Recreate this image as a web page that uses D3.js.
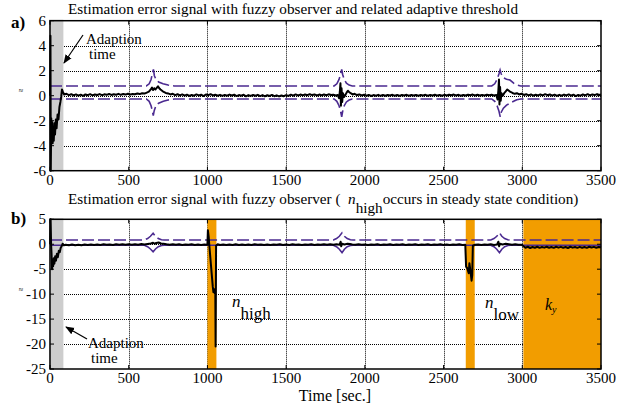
<!doctype html>
<html>
  <head>
    <meta charset="utf-8" />
    <title>Estimation error signal</title>
    <script type="text/javascript" src="https://cdnjs.cloudflare.com/ajax/libs/d3/7.8.5/d3.min.js"></script>
    <style>
      body { margin:0; background:#fff; }
      svg { display:block; }
      svg text { font-family:'Liberation Serif', 'DejaVu Serif', serif; }
    </style>
  </head>
  <body>
    <div id="chart"></div>
    <script type="text/javascript">

/* ---- data ---- */
var xTicks = [0, 500, 1000, 1500, 2000, 2500, 3000, 3500];
var yTicksA = [-6, -4, -2, 0, 2, 4, 6];
var yTicksB = [-25, -20, -15, -10, -5, 0, 5];

/* adaption time and fault windows [start, end] in sec */
var adaptionBand = [0, 85];
var faultBands = [[1000, 1057], [2641, 2698], [3007, 3500]];
var faultLabels = ["high", "low", "y"];

/* panel a) estimation error */
var sigA = [
[0,0],[3,4.8],[5,-6],[8,-1.8],[11,-3.4],[14,-2.1],[17,-3.8],[20,-2.5],[24,-3.6],[28,-2.2],[32,-3.1],[37,-1.9],[42,-2.6],[48,-1.5],[54,-1.9],[60,-0.9],[66,-0.5],[71,-0.1],[76,0.5],[82,0.3],[90,0.1],
[105,0.15],[120,0.05],[135,0.12],[150,0.02],[165,0.1],[180,0.0],[195,0.08],[210,-0.02],[225,0.1],[240,0.04],[255,0.12],[270,0.03],[285,0.1],[300,0.06],[315,0.13],[330,0.04],[345,0.11],[360,0.07],[375,0.14],[390,0.06],[405,0.12],[420,0.08],[435,0.15],[450,0.07],[465,0.13],[480,0.09],[495,0.16],[510,0.1],[525,0.14],[540,0.12],[555,0.18],[570,0.13],[585,0.2],[600,0.17],[615,0.25],[628,0.32],[640,0.5],[648,0.65],[655,0.45],[662,0.6],[670,0.5],[678,0.62],[686,0.75],[694,0.6],[702,0.5],[712,0.4],[722,0.3],[735,0.22],[750,0.18],[765,0.1],[780,0.15],[795,0.05],[810,0.12],[825,0.02],[840,0.1],[855,0.0],[870,0.08],[885,-0.02],[900,0.06],[915,0.0],[930,0.1],[945,0.02],[960,0.08],[975,-0.03],[990,0.1],
[1005,0.05],[1020,0.12],[1035,0.02],[1050,0.08],[1065,0.0],[1080,0.07],[1095,-0.02],[1110,0.06],[1125,0.0],[1140,0.09],[1155,0.02],[1170,0.08],[1185,-0.03],[1200,0.05],[1215,0.0],[1230,0.08],[1245,-0.05],[1260,0.05],[1275,-0.02],[1290,0.06],[1305,0.0],[1320,0.07],[1335,-0.03],[1350,0.05],[1365,-0.05],[1380,0.04],[1395,-0.02],[1410,0.06],[1425,-0.04],[1440,0.03],[1455,-0.06],[1470,0.02],[1485,-0.04],[1500,0.05],[1515,-0.02],[1530,0.08],[1545,0.0],[1560,0.1],[1575,0.02],[1590,0.09],[1605,0.03],[1620,0.1],[1635,0.04],[1650,0.12],[1665,0.05],[1680,0.1],[1695,0.02],[1710,0.09],[1725,0.03],[1740,0.1],[1755,0.04],[1770,0.11],[1785,0.05],[1800,0.08],[1815,0.02],[1828,0.05],[1836,-0.2],[1841,0.3],[1845,1.0],[1848,-0.8],[1852,0.6],[1856,-0.5],[1861,0.2],[1868,-0.1],[1876,0.05],[1884,0.25],[1892,0.4],[1900,0.3],[1910,0.2],[1922,0.1],[1935,0.15],[1950,0.05],[1965,0.1],
[1980,0.02],[1995,0.08],[2010,0.0],[2025,0.06],[2040,-0.02],[2055,0.05],[2070,0.0],[2085,0.07],[2100,-0.01],[2115,0.05],[2130,0.0],[2145,0.06],[2160,0.01],[2175,0.07],[2190,0.0],[2205,0.05],[2220,-0.01],[2235,0.06],[2250,0.02],[2265,0.07],[2280,0.0],[2295,0.05],[2310,0.01],[2325,0.06],[2340,0.0],[2355,0.05],[2370,0.02],[2385,0.07],[2400,0.0],[2415,0.06],[2430,0.02],[2445,0.08],[2460,0.01],[2475,0.06],[2490,0.0],[2505,0.07],[2520,0.02],[2535,0.08],[2550,0.03],[2565,0.09],[2580,0.02],[2595,0.07],[2610,0.0],[2625,0.06],[2640,0.02],[2655,0.08],[2670,0.03],[2685,0.09],[2700,0.02],[2715,0.07],[2730,0.01],[2745,0.06],[2760,0.02],[2775,0.08],[2790,0.03],[2805,0.07],[2820,0.02],[2835,0.05],[2843,-0.3],[2848,0.4],[2852,1.3],[2855,-0.7],[2859,0.7],[2863,-0.4],[2868,0.2],[2876,0.0],[2885,0.2],[2895,0.35],[2905,0.5],[2915,0.4],[2925,0.3],[2938,0.22],[2952,0.15],[2966,0.2],[2980,0.1],[2995,0.16],
[3010,0.06],[3025,0.12],[3040,0.03],[3055,0.1],[3070,0.0],[3085,0.08],[3100,0.02],[3115,0.1],[3130,0.03],[3145,0.12],[3160,0.04],[3175,0.1],[3190,0.0],[3205,0.08],[3220,-0.02],[3235,0.07],[3250,0.0],[3265,0.09],[3280,0.02],[3295,0.1],[3310,0.0],[3325,0.08],[3340,-0.03],[3355,0.06],[3370,0.0],[3385,0.1],[3400,0.03],[3415,0.12],[3430,0.02],[3445,0.1],[3460,0.05],[3475,0.13],[3490,0.06],[3500,0.1]
];

/* panel a) adaptive threshold, upper and lower */
var thrUpA = [
[0,0.78],[612,0.78],[630,0.95],[642,1.3],[650,1.75],[657,2.1],[663,1.6],[673,1.3],[690,1.1],[718,0.95],[750,0.85],[790,0.78],
[1805,0.78],[1822,0.95],[1836,1.3],[1846,1.75],[1853,2.1],[1859,1.7],[1869,1.3],[1883,1.0],[1900,0.85],[1920,0.78],
[2806,0.78],[2825,0.95],[2840,1.3],[2852,1.75],[2859,2.05],[2866,1.75],[2878,1.45],[2900,1.32],[2922,1.25],[2945,1.0],[2965,0.86],[2990,0.78],[3500,0.78]
];
var thrLoA = [
[0,-0.26],[612,-0.26],[630,-0.45],[642,-0.8],[650,-1.2],[656,-1.6],[662,-1.2],[673,-0.8],[690,-0.6],[720,-0.45],[750,-0.35],[790,-0.26],
[1805,-0.26],[1822,-0.45],[1836,-0.8],[1846,-1.25],[1853,-1.7],[1859,-1.25],[1869,-0.8],[1883,-0.5],[1900,-0.35],[1920,-0.26],
[2806,-0.26],[2825,-0.45],[2840,-0.8],[2852,-1.25],[2860,-1.7],[2867,-1.3],[2880,-1.0],[2900,-0.75],[2922,-0.6],[2945,-0.45],[2965,-0.33],[2990,-0.26],[3500,-0.26]
];

/* panel b) estimation error with faults */
var sigB = [
[0,0],[4,5],[7,0],[10,-2],[13,-5],[16,-3.2],[20,-4.4],[24,-2.8],[28,-3.9],[33,-2.4],[38,-3.3],[44,-1.9],[50,-2.6],[56,-1.3],[62,-1.6],[68,-0.7],[74,-0.4],[80,0.1],[88,-0.2],
[100,-0.1],[120,-0.2],[140,-0.05],[160,-0.18],[180,-0.08],[200,-0.2],[220,-0.06],[240,-0.16],[260,-0.04],[280,-0.15],[300,-0.05],[320,-0.14],[340,-0.02],[360,-0.12],[380,-0.03],[400,-0.13],[420,0.0],[440,-0.1],[460,-0.02],[480,-0.12],[500,0.0],[520,-0.1],[540,0.02],[560,-0.08],[580,0.03],[600,-0.05],[620,0.05],[640,0.15],[655,0.3],[665,0.1],[675,0.25],[690,0.35],[705,0.15],[720,0.1],[740,-0.02],[760,-0.1],[780,0.0],[800,-0.12],[820,-0.02],[840,-0.14],[860,-0.04],[880,-0.12],[900,-0.02],[920,-0.15],[940,-0.05],[960,-0.13],[980,-0.03],[995,-0.1],
[1000,-0.1],[1003,2.8],[1008,1.5],[1012,-0.2],[1022,-4],[1034,-8.5],[1038,-9.6],[1043,-9.0],[1047,-9.8],[1050,-9.2],[1052,-20.5],[1055,-0.3],[1065,0.0],[1080,-0.15],
[1100,-0.05],[1120,-0.16],[1140,-0.04],[1160,-0.14],[1180,-0.02],[1200,-0.13],[1220,-0.03],[1240,-0.15],[1260,-0.05],[1280,-0.14],[1300,-0.02],[1320,-0.12],[1340,-0.04],[1360,-0.15],[1380,-0.05],[1400,-0.13],[1420,-0.03],[1440,-0.12],[1460,-0.02],[1480,-0.14],[1500,-0.04],[1520,-0.13],[1540,-0.02],[1560,-0.12],[1580,-0.03],[1600,-0.14],[1620,-0.04],[1640,-0.12],[1660,-0.02],[1680,-0.13],[1700,-0.03],[1720,-0.12],[1740,-0.02],[1760,-0.1],[1780,0.0],[1800,-0.1],[1820,-0.02],[1840,-0.08],[1846,0.5],[1850,-0.4],[1855,0.1],[1870,-0.05],[1890,0.1],[1905,0.05],[1920,-0.06],[1940,-0.12],
[1960,-0.02],[1980,-0.12],[2000,-0.03],[2020,-0.14],[2040,-0.04],[2060,-0.12],[2080,-0.02],[2100,-0.13],[2120,-0.03],[2140,-0.12],[2160,-0.02],[2180,-0.14],[2200,-0.04],[2220,-0.12],[2240,-0.02],[2260,-0.13],[2280,-0.03],[2300,-0.12],[2320,-0.02],[2340,-0.14],[2360,-0.04],[2380,-0.12],[2400,-0.02],[2420,-0.13],[2440,-0.03],[2460,-0.12],[2480,-0.02],[2500,-0.13],[2520,-0.04],[2540,-0.14],[2560,-0.03],[2580,-0.12],[2600,-0.02],[2620,-0.13],[2638,-0.1],
[2643,-4.5],[2650,-4.8],[2660,-5.8],[2664,-3.8],[2670,-5.2],[2678,-7.3],[2682,-6.2],[2686,-0.3],[2700,-0.1],
[2720,-0.04],[2740,-0.14],[2760,-0.03],[2780,-0.12],[2800,-0.02],[2820,-0.13],[2840,-0.05],[2848,0.5],[2853,-0.4],[2858,0.1],[2875,-0.05],[2895,0.08],[2915,0.0],[2935,-0.1],[2955,-0.02],[2975,-0.12],[2995,-0.08],
[3008,-0.4],[3020,-0.7],[3035,-0.5],[3050,-0.75],[3065,-0.55],[3080,-0.7],[3095,-0.5],[3110,-0.72],[3125,-0.55],[3140,-0.68],[3155,-0.5],[3170,-0.7],[3185,-0.55],[3200,-0.72],[3215,-0.5],[3230,-0.68],[3245,-0.52],[3260,-0.7],[3275,-0.55],[3290,-0.75],[3305,-0.5],[3320,-0.68],[3335,-0.55],[3350,-0.72],[3365,-0.52],[3380,-0.7],[3395,-0.55],[3410,-0.72],[3425,-0.5],[3440,-0.66],[3455,-0.52],[3470,-0.7],[3485,-0.55],[3500,-0.62]
];

/* panel b) adaptive threshold, upper and lower */
var thrUpB = [
[0,0.85],[600,0.85],[620,1.15],[638,1.6],[655,2.2],[670,1.6],[688,1.15],[708,0.9],[725,0.85],
[1800,0.85],[1820,1.15],[1838,1.6],[1855,2.3],[1870,1.6],[1888,1.15],[1908,0.9],[1925,0.85],
[2800,0.85],[2820,1.15],[2838,1.6],[2855,2.3],[2870,1.6],[2888,1.15],[2908,0.9],[2925,0.85],[3500,0.85]
];
var thrLoB = [
[0,-0.2],[600,-0.2],[620,-0.5],[638,-0.95],[655,-1.5],[670,-0.95],[688,-0.5],[708,-0.25],[725,-0.2],
[1800,-0.2],[1820,-0.5],[1838,-1.0],[1855,-1.7],[1870,-1.0],[1888,-0.5],[1908,-0.25],[1925,-0.2],
[2800,-0.2],[2820,-0.5],[2838,-1.0],[2855,-1.7],[2870,-1.0],[2888,-0.5],[2908,-0.25],[2925,-0.2],[3500,-0.2]
];

/* ---- drawing ---- */
var W = 626, H = 408;
var purple = "#4b2a90", orange = "#f29d00", grey = "#cdcdcd";
var serif = "'Liberation Serif', 'DejaVu Serif', serif";

var svg = d3.select("#chart").append("svg")
  .attr("width", W).attr("height", H)
  .attr("font-family", serif);

var x = d3.scaleLinear().domain([0, 3500]).range([50, 601]);

function panel(opts) {
  var y = d3.scaleLinear().domain(opts.domain).range(opts.range);
  var g = svg.append("g");
  var top = opts.range[1], bot = opts.range[0];

  /* dotted grid */
  g.selectAll("line.gx").data(xTicks.slice(1, -1)).enter().append("line")
    .attr("x1", function(d) { return Math.round(x(d)) + 0.5; })
    .attr("x2", function(d) { return Math.round(x(d)) + 0.5; })
    .attr("y1", top).attr("y2", bot)
    .attr("stroke", "#000").attr("stroke-width", 1).attr("stroke-dasharray", "1,1");
  g.selectAll("line.gy").data(opts.ticks.slice(1, -1)).enter().append("line")
    .attr("x1", x(0)).attr("x2", x(3500))
    .attr("y1", function(d) { return Math.round(y(d)) + 0.5; })
    .attr("y2", function(d) { return Math.round(y(d)) + 0.5; })
    .attr("stroke", "#000").attr("stroke-width", 1).attr("stroke-dasharray", "1,1");

  /* shaded bands */
  g.append("rect")
    .attr("x", x(adaptionBand[0]) - 1).attr("width", x(adaptionBand[1]) - x(adaptionBand[0]) + 1)
    .attr("y", top - 1).attr("height", bot - top + 1).attr("fill", grey);
  (opts.bands || []).forEach(function(b) {
    g.append("rect")
      .attr("x", x(b[0])).attr("width", x(b[1]) - x(b[0]))
      .attr("y", top).attr("height", bot - top).attr("fill", orange);
  });

  var line = d3.line().x(function(d) { return x(d[0]); }).y(function(d) { return y(d[1]); });

  g.append("path").attr("d", line(opts.up)).attr("fill", "none")
    .attr("stroke", purple).attr("stroke-width", 1.6).attr("stroke-dasharray", "12,4");
  g.append("path").attr("d", line(opts.lo)).attr("fill", "none")
    .attr("stroke", purple).attr("stroke-width", 1.6).attr("stroke-dasharray", opts.loDash);
  g.append("path").attr("d", line(opts.sig)).attr("fill", "none")
    .attr("stroke", "#000").attr("stroke-width", 2).attr("stroke-linejoin", "round");

  /* frame */
  g.append("rect").attr("x", x(0)).attr("y", top)
    .attr("width", x(3500) - x(0)).attr("height", bot - top)
    .attr("fill", "none").attr("stroke", "#000").attr("stroke-width", 1.5);

  /* inward ticks on all sides */
  var tl = 4;
  g.selectAll("line.tx").data(xTicks).enter().append("line")
    .attr("x1", x).attr("x2", x).attr("y1", bot).attr("y2", bot - tl).attr("stroke", "#000");
  g.selectAll("line.tx2").data(xTicks).enter().append("line")
    .attr("x1", x).attr("x2", x).attr("y1", top).attr("y2", top + tl).attr("stroke", "#000");
  g.selectAll("line.ty").data(opts.ticks).enter().append("line")
    .attr("x1", x(0)).attr("x2", x(0) + tl).attr("y1", y).attr("y2", y).attr("stroke", "#000");
  g.selectAll("line.ty2").data(opts.ticks).enter().append("line")
    .attr("x1", x(3500)).attr("x2", x(3500) - tl).attr("y1", y).attr("y2", y).attr("stroke", "#000");

  /* tick labels */
  g.selectAll("text.xl").data(xTicks).enter().append("text")
    .attr("x", x).attr("y", bot + 14).attr("text-anchor", "middle")
    .attr("font-size", 15).text(function(d) { return d; });
  g.selectAll("text.yl").data(opts.ticks).enter().append("text")
    .attr("x", 46).attr("y", function(d) { return y(d) + 5; }).attr("text-anchor", "end")
    .attr("font-size", 15).text(function(d) { return d; });

  /* panel letter and tiny axis symbol */
  g.append("text").attr("x", 11).attr("y", opts.letterY)
    .attr("font-size", 17).attr("font-weight", "bold").text(opts.letter);
  g.append("text").attr("x", 21).attr("y", opts.symY).attr("text-anchor", "middle")
    .attr("font-size", 8).text("\u2248");

  return y;
}

var yA = panel({
  domain: [-6, 6], range: [170.7, 20.7], ticks: yTicksA,
  sig: sigA, up: thrUpA, lo: thrLoA, loDash: "12,4",
  letter: "a)", letterY: 28, symY: 93
});

var yB = panel({
  domain: [-25, 5], range: [369, 219.3], ticks: yTicksB,
  sig: sigB, up: thrUpB, lo: thrLoB, loDash: null, bands: faultBands,
  letter: "b)", letterY: 224, symY: 292
});

/* titles */
svg.append("text").attr("x", 68).attr("y", 14).attr("font-size", 15.2)
  .text("Estimation error signal with fuzzy observer and related adaptive threshold");

var t2 = svg.append("text").attr("x", 68).attr("y", 204).attr("font-size", 15.2);
t2.append("tspan").text("Estimation error signal with fuzzy observer (\u00a0\u00a0");
t2.append("tspan").attr("font-style", "italic").text("n");
t2.append("tspan").attr("dy", 9).text("high");
t2.append("tspan").attr("dy", -9).text("occurs in steady state condition)");

/* x axis title */
svg.append("text").attr("x", 335).attr("y", 401).attr("text-anchor", "middle")
  .attr("font-size", 16).text("Time [sec.]");

/* annotations */
var defs = svg.append("defs");
defs.append("marker").attr("id", "ah").attr("viewBox", "0 0 10 10")
  .attr("refX", 9).attr("refY", 5).attr("markerWidth", 9).attr("markerHeight", 9)
  .attr("orient", "auto").attr("markerUnits", "userSpaceOnUse")
  .append("path").attr("d", "M0,1 L10,5 L0,9 Z").attr("fill", "#000");

function note(tx, ty, hx, hy, lx, ly) {
  svg.append("line").attr("x1", tx).attr("y1", ty).attr("x2", hx).attr("y2", hy)
    .attr("stroke", "#000").attr("stroke-width", 1.2).attr("marker-end", "url(#ah)");
  svg.append("text").attr("x", lx).attr("y", ly).attr("font-size", 15).text("Adaption");
  svg.append("text").attr("x", lx + 3).attr("y", ly + 15).attr("font-size", 15).text("time");
}
note(83, 35, 64, 63, 86, 44);
note(87, 339, 66, 327, 88, 348);

/* fault labels inside panel b */
function faultText(xp, yp, letter, sub, subSize) {
  var t = svg.append("text").attr("x", xp).attr("y", yp).attr("font-size", 17);
  t.append("tspan").attr("font-style", "italic").text(letter);
  t.append("tspan").attr("dy", 12).attr("font-size", subSize).text(sub);
}
faultText(232, 307, "n", faultLabels[0], 17);
faultText(485, 308, "n", faultLabels[1], 17);
var ky = svg.append("text").attr("x", 545).attr("y", 310).attr("font-size", 16);
ky.append("tspan").attr("font-style", "italic").text("k");
ky.append("tspan").attr("dy", 3).attr("font-size", 10).attr("font-style", "italic").text(faultLabels[2]);

    </script>
  </body>
</html>
